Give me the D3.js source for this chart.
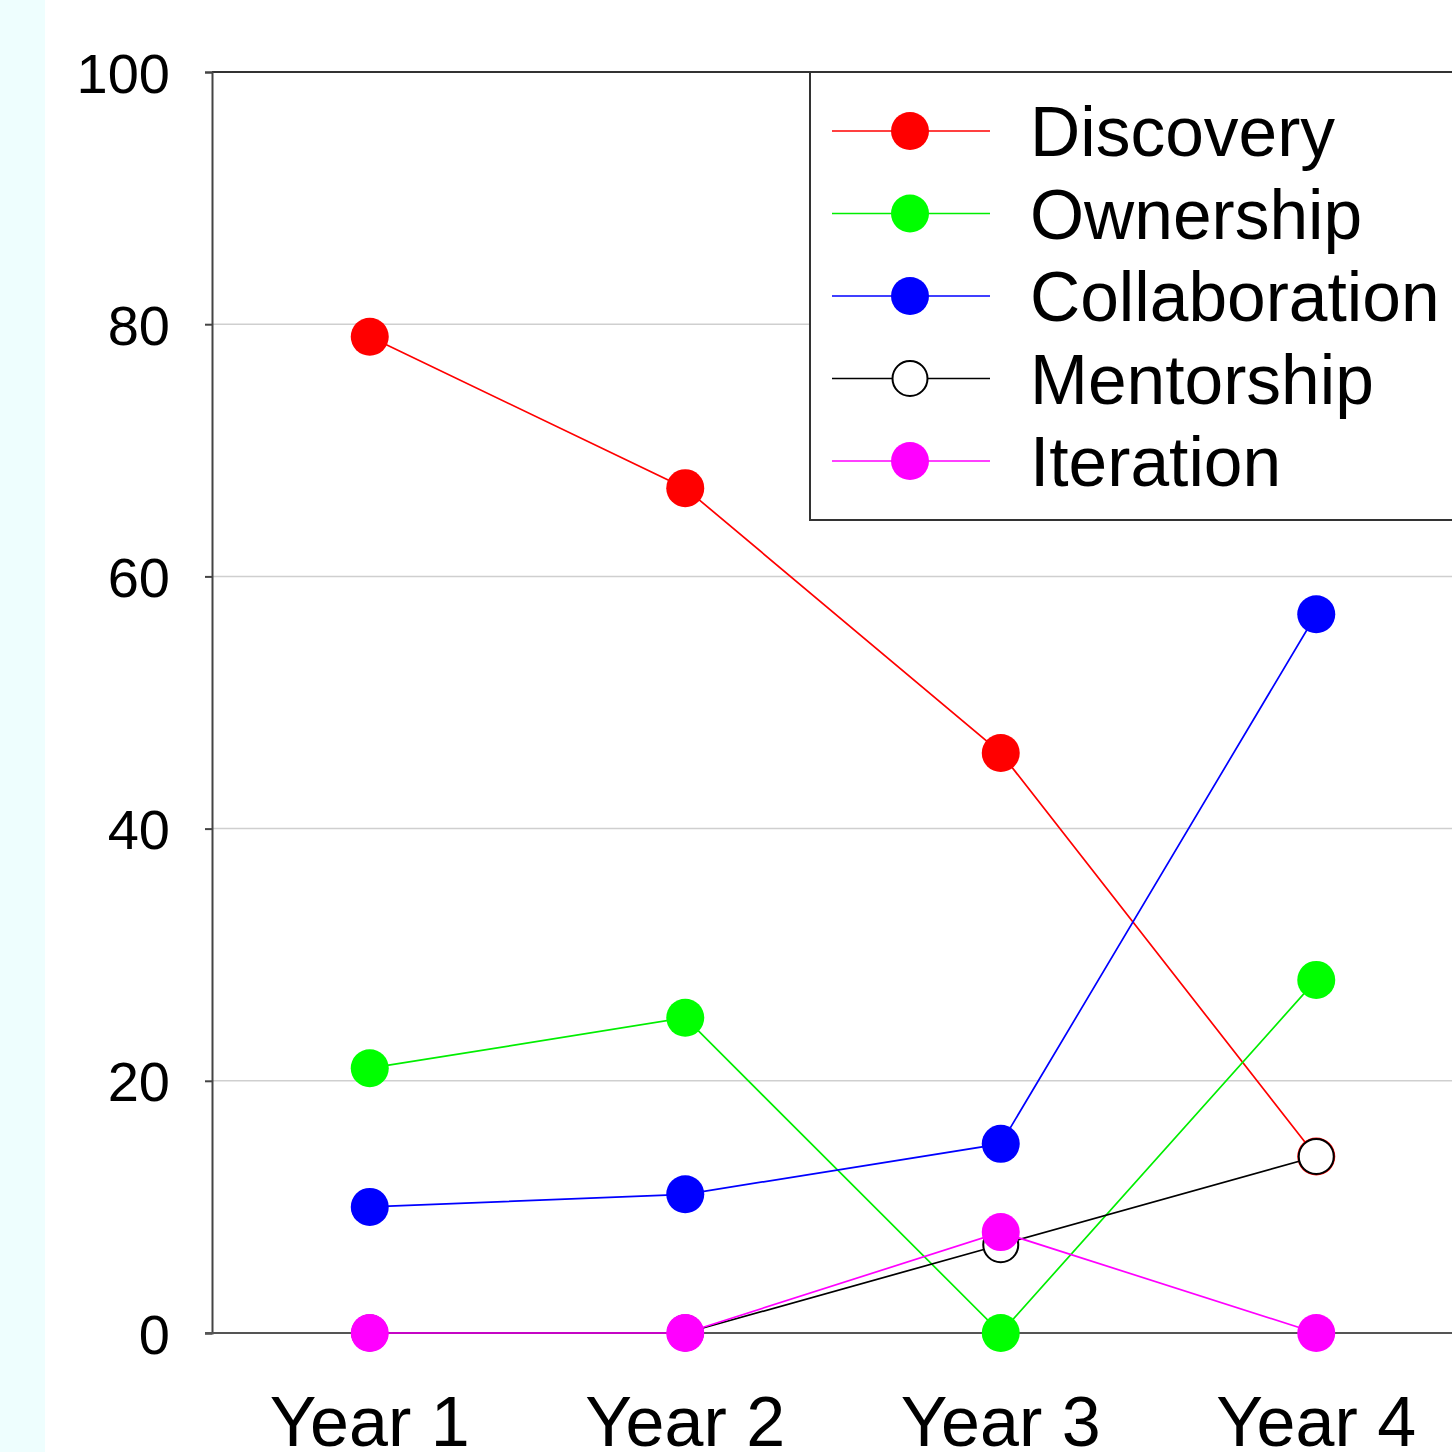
<!DOCTYPE html>
<html><head><meta charset="utf-8">
<script src="https://cdn.jsdelivr.net/npm/d3@7"></script>
<style>html,body{margin:0;padding:0;background:#fff;overflow:hidden}</style>
</head><body>
<svg id="c" width="1452" height="1452"></svg>
<script>
const years = ["Year 1","Year 2","Year 3","Year 4"];
const seriesNames = ["Discovery","Ownership","Collaboration","Mentorship","Iteration"];
const seriesColors = ["#ff0000","#00ee00","#0000ff","#000000","#ff00ff"];
const seriesFills = ["#ff0000","#00ff00","#0000ff","#ffffff","#ff00ff"];
const discovery = [79, 67, 46, 14];
const ownership = [21, 25, 0, 28];
const collaboration = [10, 11, 15, 57];
const mentorship = [0, 0, 7, 14];
const iteration = [0, 0, 8, 0];
const yTicks = [0, 20, 40, 60, 80, 100];
const allValues = [discovery, ownership, collaboration, mentorship, iteration];

(function(){
const svg = d3.select("#c");
svg.append("rect").attr("x",0).attr("y",0).attr("width",45).attr("height",1452).attr("fill","#eefefe");

const pL = 212, pR = 1474, pT = 72, pB = 1333;
const x = d3.scaleBand().domain(years).range([pL, pR]);
const xc = d => x(d) + x.bandwidth()/2;
const y = d3.scaleLinear().domain([0,100]).range([pB, pT]);
const font = "'Liberation Sans', Arial, sans-serif";

// grid
svg.append("g").selectAll("line").data(yTicks.filter(t => t>0 && t<100)).join("line")
  .attr("x1", pL).attr("x2", pR).attr("y1", d=>y(d)).attr("y2", d=>y(d))
  .attr("stroke","#cfcfcf").attr("stroke-width",1.5);
// top frame
svg.append("line").attr("x1",pL).attr("x2",pR).attr("y1",y(100)).attr("y2",y(100))
  .attr("stroke","#333").attr("stroke-width",2);

// y axis
const yAxis = d3.axisLeft(y).tickValues(yTicks).tickSize(7).tickPadding(35).tickFormat(d3.format("d"));
const gy = svg.append("g").attr("transform",`translate(${pL},0)`).call(yAxis);
gy.select(".domain").attr("stroke","#444").attr("stroke-width",2);
gy.selectAll(".tick line").attr("stroke","#444").attr("stroke-width",2);
gy.selectAll(".tick text").attr("font-family",font).attr("font-size",56).attr("fill","#000").attr("dy","0.36em");

// x axis
const xAxis = d3.axisBottom(x).tickSize(7).tickSizeOuter(0).tickPadding(56);
const gx = svg.append("g").attr("transform",`translate(0,${pB})`).call(xAxis);
gx.select(".domain").attr("stroke","#555").attr("stroke-width",2).attr("d",`M${pL-7},0H${pR}`);
gx.selectAll(".tick line").attr("stroke","#444").attr("stroke-width",1.5);
gx.selectAll(".tick text").attr("font-family",font).attr("font-size",70).attr("fill","#000").attr("dy","0.71em");

// series
const line = d3.line().x((d,i)=>xc(years[i])).y(d=>y(d));
allValues.forEach((vals, si) => {
  const g = svg.append("g");
  g.append("path").datum(vals).attr("d", line).attr("fill","none")
    .attr("stroke", seriesColors[si]).attr("stroke-width",1.7);
  g.selectAll("circle").data(vals).join("circle")
    .attr("cx",(d,i)=>xc(years[i])).attr("cy",d=>y(d)).attr("r", si===3 ? 17.5 : 19)
    .attr("fill",seriesFills[si])
    .attr("stroke", si===3 ? "#000" : "none").attr("stroke-width", si===3 ? 2 : 0);
});

// legend
const lg = svg.append("g");
lg.append("rect").attr("x",810).attr("y",72).attr("width",700).attr("height",448)
  .attr("fill","#fff").attr("stroke","#333").attr("stroke-width",2);
const ly = d3.scalePoint().domain(seriesNames).range([131, 461]);
seriesNames.forEach((n, si) => {
  const yy = ly(n);
  lg.append("line").attr("x1",832).attr("x2",990).attr("y1",yy).attr("y2",yy)
    .attr("stroke",seriesColors[si]).attr("stroke-width",1.7);
  lg.append("circle").attr("cx",910).attr("cy",yy).attr("r", si===3 ? 17.5 : 19)
    .attr("fill",seriesFills[si])
    .attr("stroke", si===3 ? "#000" : "none").attr("stroke-width", si===3 ? 2 : 0);
  lg.append("text").attr("x",1030).attr("y",yy).attr("dy","0.36em")
    .attr("font-family",font).attr("font-size",69.5).attr("fill","#000").text(n);
});
})();
</script>
</body></html>
